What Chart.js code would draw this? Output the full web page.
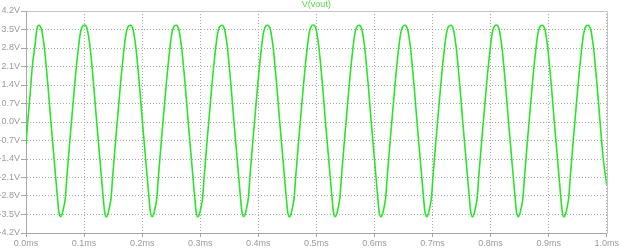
<!DOCTYPE html>
<html>
<head>
<meta charset="utf-8">
<title>V(vout)</title>
<script src="https://cdn.jsdelivr.net/npm/chart.js@4.4.1/dist/chart.umd.min.js"></script>
<style>
  html, body { margin: 0; padding: 0; background: #fff; }
  #wrap { width: 620px; height: 249px; }
</style>
</head>
<body>
<div id="wrap"><canvas id="waveChart" width="620" height="249"></canvas></div>
<script>
// ==============================
// DATA
// ==============================
const traceName = 'V(vout)';

// time in ms, one line per cycle (peak -> next rise)
const timeMs = [
  0.0000, 0.0029, 0.0069, 0.0109, 0.0155, 0.0190,
  0.0223, 0.0268, 0.0299, 0.0317, 0.0377, 0.0429, 0.0484, 0.0539, 0.0566, 0.0595, 0.0623, 0.0652, 0.0678, 0.0703, 0.0755, 0.0810, 0.0868, 0.0935, 0.0968,
  0.1011, 0.1056, 0.1087, 0.1105, 0.1165, 0.1217, 0.1272, 0.1327, 0.1354, 0.1383, 0.1411, 0.1440, 0.1466, 0.1491, 0.1543, 0.1598, 0.1656, 0.1723, 0.1756,
  0.1799, 0.1844, 0.1875, 0.1893, 0.1953, 0.2005, 0.2060, 0.2115, 0.2142, 0.2171, 0.2199, 0.2228, 0.2254, 0.2279, 0.2331, 0.2386, 0.2444, 0.2511, 0.2544,
  0.2587, 0.2632, 0.2663, 0.2681, 0.2741, 0.2793, 0.2848, 0.2903, 0.2930, 0.2959, 0.2987, 0.3016, 0.3042, 0.3067, 0.3119, 0.3174, 0.3232, 0.3299, 0.3332,
  0.3375, 0.3420, 0.3451, 0.3469, 0.3529, 0.3581, 0.3636, 0.3691, 0.3718, 0.3747, 0.3775, 0.3804, 0.3830, 0.3855, 0.3907, 0.3962, 0.4020, 0.4087, 0.4120,
  0.4163, 0.4208, 0.4239, 0.4257, 0.4317, 0.4369, 0.4424, 0.4479, 0.4506, 0.4535, 0.4563, 0.4592, 0.4618, 0.4643, 0.4695, 0.4750, 0.4808, 0.4875, 0.4908,
  0.4951, 0.4996, 0.5027, 0.5045, 0.5105, 0.5157, 0.5212, 0.5267, 0.5294, 0.5323, 0.5351, 0.5380, 0.5406, 0.5431, 0.5483, 0.5538, 0.5596, 0.5663, 0.5696,
  0.5739, 0.5784, 0.5815, 0.5833, 0.5893, 0.5945, 0.6000, 0.6055, 0.6082, 0.6111, 0.6139, 0.6168, 0.6194, 0.6219, 0.6271, 0.6326, 0.6384, 0.6451, 0.6484,
  0.6527, 0.6572, 0.6603, 0.6621, 0.6681, 0.6733, 0.6788, 0.6843, 0.6870, 0.6899, 0.6927, 0.6956, 0.6982, 0.7007, 0.7059, 0.7114, 0.7172, 0.7239, 0.7272,
  0.7315, 0.7360, 0.7391, 0.7409, 0.7469, 0.7521, 0.7576, 0.7631, 0.7658, 0.7687, 0.7715, 0.7744, 0.7770, 0.7795, 0.7847, 0.7902, 0.7960, 0.8027, 0.8060,
  0.8103, 0.8148, 0.8179, 0.8197, 0.8257, 0.8309, 0.8364, 0.8419, 0.8446, 0.8475, 0.8503, 0.8532, 0.8558, 0.8583, 0.8635, 0.8690, 0.8748, 0.8815, 0.8848,
  0.8891, 0.8936, 0.8967, 0.8985, 0.9045, 0.9097, 0.9152, 0.9207, 0.9234, 0.9263, 0.9291, 0.9320, 0.9346, 0.9371, 0.9423, 0.9478, 0.9536, 0.9603, 0.9636,
  0.9679, 0.9724, 0.9755, 0.9773, 0.9833, 0.9885, 0.9940, 1.0000
];

// vout in volts, same layout as timeMs
const voutV = [
  -0.85, 0.00, 1.00, 2.10, 2.90, 3.55,
  3.66, 3.50, 3.10, 2.80, 1.40, 0.00, -1.40, -2.80, -3.40, -3.58, -3.48, -3.20, -2.85, -2.10, -0.70, 0.70, 2.10, 3.35, 3.60,
  3.67, 3.50, 3.10, 2.80, 1.40, 0.00, -1.40, -2.80, -3.40, -3.59, -3.48, -3.20, -2.85, -2.10, -0.70, 0.70, 2.10, 3.35, 3.60,
  3.66, 3.50, 3.10, 2.80, 1.40, 0.00, -1.40, -2.80, -3.40, -3.58, -3.48, -3.20, -2.85, -2.10, -0.70, 0.70, 2.10, 3.35, 3.60,
  3.66, 3.50, 3.10, 2.80, 1.40, 0.00, -1.40, -2.80, -3.40, -3.59, -3.48, -3.20, -2.85, -2.10, -0.70, 0.70, 2.10, 3.35, 3.60,
  3.66, 3.50, 3.10, 2.80, 1.40, 0.00, -1.40, -2.80, -3.40, -3.58, -3.48, -3.20, -2.85, -2.10, -0.70, 0.70, 2.10, 3.35, 3.60,
  3.66, 3.50, 3.10, 2.80, 1.40, 0.00, -1.40, -2.80, -3.40, -3.59, -3.48, -3.20, -2.85, -2.10, -0.70, 0.70, 2.10, 3.35, 3.60,
  3.67, 3.50, 3.10, 2.80, 1.40, 0.00, -1.40, -2.80, -3.40, -3.58, -3.48, -3.20, -2.85, -2.10, -0.70, 0.70, 2.10, 3.35, 3.60,
  3.66, 3.50, 3.10, 2.80, 1.40, 0.00, -1.40, -2.80, -3.40, -3.59, -3.48, -3.20, -2.85, -2.10, -0.70, 0.70, 2.10, 3.35, 3.60,
  3.66, 3.50, 3.10, 2.80, 1.40, 0.00, -1.40, -2.80, -3.40, -3.58, -3.48, -3.20, -2.85, -2.10, -0.70, 0.70, 2.10, 3.35, 3.60,
  3.66, 3.50, 3.10, 2.80, 1.40, 0.00, -1.40, -2.80, -3.40, -3.59, -3.48, -3.20, -2.85, -2.10, -0.70, 0.70, 2.10, 3.35, 3.60,
  3.67, 3.50, 3.10, 2.80, 1.40, 0.00, -1.40, -2.80, -3.40, -3.58, -3.48, -3.20, -2.85, -2.10, -0.70, 0.70, 2.10, 3.35, 3.60,
  3.66, 3.50, 3.10, 2.80, 1.40, 0.00, -1.40, -2.80, -3.40, -3.59, -3.48, -3.20, -2.85, -2.10, -0.70, 0.70, 2.10, 3.35, 3.60,
  3.66, 3.50, 3.10, 2.80, 1.40, 0.00, -1.40, -2.38
];

const xTicks = [0, 0.1, 0.2, 0.3, 0.4, 0.5, 0.6, 0.7, 0.8, 0.9, 1.0];
const yTicks = [-4.2, -3.5, -2.8, -2.1, -1.4, -0.7, 0, 0.7, 1.4, 2.1, 2.8, 3.5, 4.2];

// ==============================
// STYLE
// ==============================
const traceColor = '#27e627';
const titleColor = '#55d944';
const axisColor = '#a6a6a6';
const gridColor = '#a9a9a9';
const labelColor = '#9a9a9a';
const tickFont = { family: '"Liberation Sans", Arial, sans-serif', size: 9 };

const fmt = (v, unit) => (Math.abs(v) < 1e-9 ? 0 : v).toFixed(1) + unit;

// frame on top/right + trace name above plot
const framePlugin = {
  id: 'frame',
  afterDraw(chart) {
    const { ctx, chartArea: a } = chart;
    ctx.save();
    ctx.strokeStyle = '#c4c4c4';
    ctx.lineWidth = 1;
    ctx.beginPath();
    ctx.moveTo(Math.round(a.left) + 0.5, Math.round(a.top) + 0.5);
    ctx.lineTo(Math.round(a.right) + 0.5, Math.round(a.top) + 0.5);
    ctx.lineTo(Math.round(a.right) + 0.5, Math.round(a.bottom) + 0.5);
    ctx.stroke();
    ctx.fillStyle = titleColor;
    ctx.font = '9px "Liberation Sans", Arial, sans-serif';
    ctx.textAlign = 'center';
    ctx.textBaseline = 'middle';
    ctx.fillText(traceName, (a.left + a.right) / 2, 5);
    ctx.restore();
  }
};

const points = timeMs.map((t, i) => ({ x: t, y: voutV[i] }));

new Chart(document.getElementById('waveChart'), {
  type: 'line',
  data: {
    datasets: [{
      label: traceName,
      data: points,
      borderColor: traceColor,
      borderWidth: 1.6,
      pointRadius: 0,
      fill: false,
      cubicInterpolationMode: 'monotone'
    }]
  },
  options: {
    responsive: false,
    animation: false,
    devicePixelRatio: 1,
    layout: { padding: { top: 11, right: 11, left: 0, bottom: 0 } },
    plugins: {
      legend: { display: false },
      tooltip: { enabled: false },
      title: { display: false }
    },
    scales: {
      x: {
        type: 'linear',
        min: 0,
        max: 1,
        afterBuildTicks: s => { s.ticks = xTicks.map(v => ({ value: v })); },
        afterFit: s => { s.height = 16; },
        ticks: {
          color: labelColor,
          font: tickFont,
          padding: 1,
          maxRotation: 0,
          autoSkip: false,
          callback: v => fmt(v, 'ms')
        },
        grid: {
          color: gridColor,
          lineWidth: 1,
          tickColor: axisColor,
          tickLength: 4
        },
        border: { display: true, color: axisColor, width: 1, dash: [1, 2] }
      },
      y: {
        type: 'linear',
        min: -4.2,
        max: 4.2,
        afterBuildTicks: s => { s.ticks = yTicks.map(v => ({ value: v })); },
        afterFit: s => { s.width = 26; },
        ticks: {
          color: labelColor,
          font: tickFont,
          padding: 1,
          autoSkip: false,
          callback: v => fmt(v, 'V')
        },
        grid: {
          color: gridColor,
          lineWidth: 1,
          tickColor: axisColor,
          tickLength: 5
        },
        border: { display: true, color: axisColor, width: 1, dash: [1, 2] }
      }
    }
  },
  plugins: [framePlugin]
});
</script>
</body>
</html>
